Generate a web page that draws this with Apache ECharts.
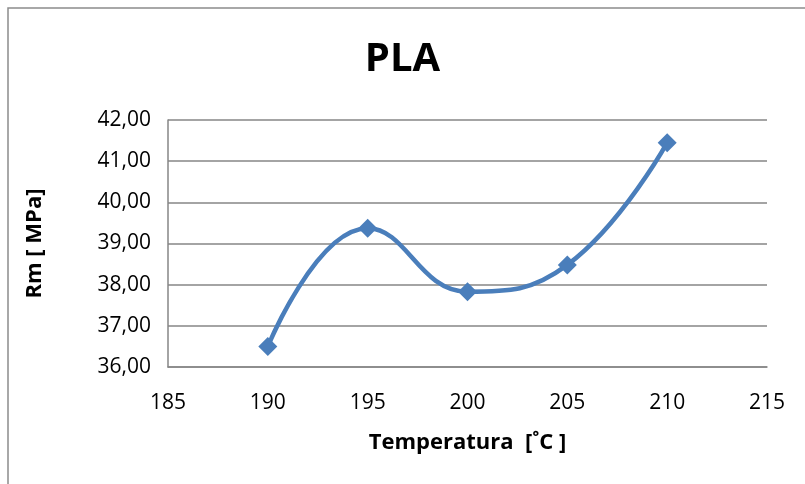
<!DOCTYPE html>
<html>
<head>
<meta charset="utf-8">
<script src="https://cdn.jsdelivr.net/npm/echarts@6/dist/echarts.min.js"></script>
<style>html,body{margin:0;padding:0;background:#fff;}#c{width:805px;height:484px;}</style>
</head>
<body>
<div id="c"></div>
<script>
var titleText = "PLA";
var xName = "Temperatura  [˚C ]";
var yName = "Rm [ MPa]";
var temps = [190, 195, 200, 205, 210];
var rm = [36.50, 39.37, 37.83, 38.48, 41.45];
var xMin = 185, xMax = 215, xStep = 5;
var yMin = 36, yMax = 42, yStep = 1;

var chart = echarts.init(document.getElementById('c'));
var font = '"Open Sans", "Noto Sans", sans-serif';
chart.setOption({
  animation: false,
  backgroundColor: '#fff',
  graphic: [{
    type: 'rect', shape: {x: 8, y: 8, width: 900, height: 600},
    style: {fill: 'none', stroke: '#8c8c8c', lineWidth: 1.5}, silent: true
  }],
  title: {
    text: titleText, left: 'center', top: 35,
    textStyle: {fontFamily: font, fontWeight: 'bold', fontSize: 40, color: '#000'}
  },
  grid: {left: 168, right: 38, top: 120, bottom: 117},
  xAxis: {
    type: 'value', min: xMin, max: xMax, interval: xStep,
    name: xName, nameLocation: 'middle', nameGap: 65,
    nameTextStyle: {fontFamily: font, fontWeight: 'bold', fontSize: 22, color: '#000'},
    axisLine: {show: true, lineStyle: {color: '#868686', width: 1.5}},
    axisTick: {show: false},
    splitLine: {show: false},
    axisLabel: {fontFamily: font, fontSize: 21, color: '#000', margin: 26}
  },
  yAxis: {
    type: 'value', min: yMin, max: yMax, interval: yStep,
    name: yName, nameLocation: 'middle', nameGap: 122, nameRotate: 90,
    nameTextStyle: {fontFamily: font, fontWeight: 'bold', fontSize: 22, color: '#000'},
    axisLine: {show: true, lineStyle: {color: '#868686', width: 1.5}},
    axisTick: {show: false},
    splitLine: {show: true, lineStyle: {color: '#868686', width: 1.5}},
    axisLabel: {fontFamily: font, fontSize: 21, color: '#000', margin: 17,
      formatter: function (v) { return v.toFixed(2).replace('.', ','); }}
  },
  series: [{
    type: 'line',
    data: temps.map(function (t, i) { return [t, rm[i]]; }),
    smooth: 0.45,
    symbol: 'diamond', symbolSize: 19,
    lineStyle: {color: '#4A7EBB', width: 4.5},
    itemStyle: {color: '#4A7EBB'}
  }]
});
</script>
</body>
</html>
